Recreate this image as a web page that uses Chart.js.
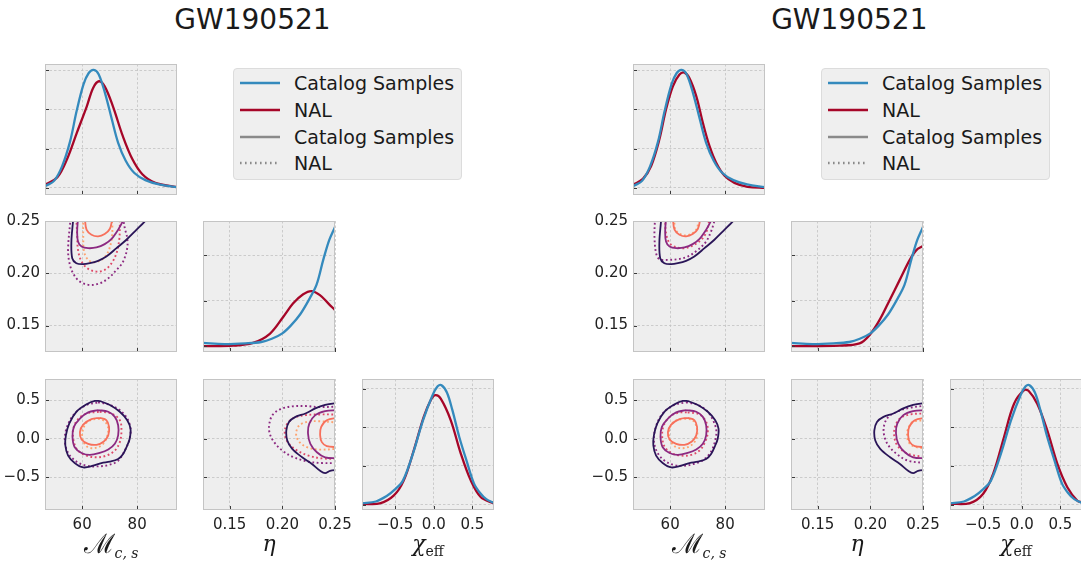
<!DOCTYPE html>
<html lang="en">
<head>
<meta charset="UTF-8">
<title>GW190521 corner plots</title>
<script src="https://cdn.jsdelivr.net/npm/chart.js"></script>
<style>
  body {
    margin: 0;
    width: 1081px;
    height: 561px;
    overflow: hidden;
    position: relative;
    background: #fff;
    font-family: 'DejaVu Sans', sans-serif;
    color: #1a1a1a;
  }
  canvas { position: absolute; }
  .title {
    position: absolute;
    top: 6px;
    font-size: 28px;
    line-height: 28px;
    transform: translateX(-50%);
    white-space: nowrap;
  }
  .legend {
    position: absolute;
    top: 68px;
    width: 229px;
    height: 112px;
    box-sizing: border-box;
    background: #efefef;
    border: 1px solid #dcdcdc;
    border-radius: 4px;
    padding-top: 1px;
  }
  .legend .row {
    height: 26.7px;
    display: flex;
    align-items: center;
    font-size: 19px;
  }
  .legend svg { margin-left: 6px; margin-right: 14px; }
  .axlabel {
    position: absolute;
    top: 533px;
    font-family: 'DejaVu Serif', serif;
    font-style: italic;
    font-size: 22px;
    line-height: 22px;
    transform: translateX(-50%);
    white-space: nowrap;
  }
  .axlabel .big { font-size: 27px; font-style: normal; }
  .axlabel sub { font-size: 14px; }
  .axlabel .rm { font-style: normal; }
</style>
</head>
<body>
<script>
  // ---- text ----
  const TITLE = 'GW190521';
  const LEGEND_LABELS = ['Catalog Samples', 'NAL', 'Catalog Samples', 'NAL'];

  // ---- axes ----
  const MC_RANGE = [46.5, 94.5];
  const ETA_RANGE = [0.1247, 0.25];
  const CHI_RANGE = [-0.93, 0.78];
  const MC_TICKS = [60, 80];
  const ETA_TICKS = [0.15, 0.20, 0.25];
  const CHI_TICKS = [-0.5, 0, 0.5];
  const MC_LABELS = ['60', '80'];
  const ETA_LABELS = ['0.15', '0.20', '0.25'];
  const CHI_LABELS = ['\u22120.5', '0.0', '0.5'];
  // density axes of the diagonal panels (unlabelled)
  const MC_DENS = [-0.18, 3.16], MC_DENS_TICKS = [0, 1, 2, 3];
  const ETA_DENS = [-0.13, 2.75], ETA_DENS_TICKS = [0, 1, 2];
  const CHI_DENS = [-0.14, 3.25], CHI_DENS_TICKS = [0, 1, 2, 3];

  // ---- 1D marginals [x, density] ----
  const MC_CAT = [[46.5,0.04],[47.0,0.06],[49.8,0.18],[52.7,0.55],[55.6,1.18],[58.0,1.96],[60.5,2.64],[62.4,2.93],[64.2,3.01],[66.0,2.9],[68.4,2.4],[70.8,1.75],[73.1,1.15],[75.8,0.7],[79.0,0.38],[83.0,0.2],[88.0,0.09],[94.5,0.02]];
  const MC_NAL_L = [[46.5,0.08],[47.0,0.10],[51.0,0.27],[54.5,0.73],[58.1,1.41],[61.7,2.08],[64.0,2.55],[66.1,2.72],[68.2,2.59],[71.2,2.08],[74.8,1.32],[78.3,0.73],[81.9,0.35],[86.6,0.13],[94.5,0.02]];
  const MC_NAL_R = [[46.5,0.08],[50.1,0.23],[53.1,0.56],[56.1,1.24],[58.5,2.0],[61.0,2.59],[63.4,2.89],[65.2,2.94],[67.0,2.8],[69.5,2.34],[71.9,1.66],[74.3,1.07],[76.7,0.65],[79.8,0.31],[83.4,0.13],[88.2,0.03],[94.5,0.0]];

  const ETA_CAT = [[0.1245,0.07],[0.145,0.045],[0.165,0.06],[0.18,0.09],[0.19,0.16],[0.2,0.28],[0.208,0.45],[0.217,0.7],[0.226,1.05],[0.2325,1.35],[0.2389,1.9],[0.2445,2.33],[0.25,2.62]];
  const ETA_NAL_L = [[0.1245,0.0],[0.1532,0.01],[0.1722,0.07],[0.1881,0.27],[0.2008,0.64],[0.2103,0.94],[0.2198,1.14],[0.2278,1.21],[0.2357,1.12],[0.2436,0.94],[0.25,0.79]];
  const ETA_NAL_R = [[0.1245,0.0],[0.1707,0.01],[0.1898,0.06],[0.1992,0.24],[0.2087,0.57],[0.2183,1.01],[0.2278,1.45],[0.2373,1.89],[0.2437,2.11],[0.25,2.2]];

  const CHI_CAT = [[-0.93,0.03],[-0.75,0.08],[-0.61,0.22],[-0.51,0.38],[-0.40,0.62],[-0.27,1.32],[-0.14,2.18],[-0.02,2.81],[0.05,3.06],[0.10,3.09],[0.17,2.9],[0.24,2.45],[0.33,1.75],[0.43,1.1],[0.52,0.55],[0.60,0.3],[0.68,0.14],[0.78,0.04]];
  const CHI_NAL_L = [[-0.93,0.02],[-0.70,0.03],[-0.52,0.23],[-0.39,0.62],[-0.26,1.40],[-0.13,2.27],[-0.04,2.70],[0.02,2.83],[0.09,2.74],[0.22,2.18],[0.35,1.32],[0.48,0.62],[0.61,0.19],[0.78,0.03]];
  const CHI_NAL_R = [[-0.93,0.02],[-0.67,0.04],[-0.50,0.28],[-0.37,0.80],[-0.23,1.75],[-0.10,2.61],[0.03,2.96],[0.09,2.94],[0.20,2.61],[0.33,1.92],[0.46,1.06],[0.59,0.45],[0.72,0.10],[0.78,0.06]];

  // ---- 2D contours, outer -> inner ----
  const MCETA_CAT = [
    [[56.7,0.2525],[56.7,0.2503],[56.1,0.2304],[56.4,0.2144],[57.9,0.2096],[60.4,0.2087],[62.8,0.2096],[65.8,0.2119],[68.8,0.216],[72.5,0.224],[76.1,0.2321],[79.8,0.2417],[82.8,0.2497],[83.4,0.2526]],
    [[58.5,0.2525],[58.2,0.2401],[58.5,0.2304],[59.8,0.2256],[62.2,0.224],[65.2,0.2247],[68.2,0.2279],[70.7,0.233],[73.1,0.2417],[74.9,0.2503],[75.1,0.2525]],
    [[61.0,0.2525],[61.6,0.2417],[63.4,0.2369],[65.8,0.2353],[68.2,0.2375],[70.1,0.2426],[71.0,0.2525]]
  ];
  const MCETA_NAL_L = [
    [[55.8,0.2525],[54.9,0.224],[55.3,0.2112],[56.7,0.2],[59.2,0.192],[62.8,0.1888],[66.4,0.1904],[69.5,0.1952],[72.5,0.2032],[74.9,0.2112],[76.4,0.224],[76.4,0.2337],[75.5,0.2433],[74.9,0.2525]],
    [[57.9,0.2525],[58.2,0.2369],[58.5,0.2224],[59.8,0.2112],[62.2,0.2042],[65.2,0.2016],[68.2,0.2032],[70.7,0.2096],[72.5,0.2192],[73.5,0.2321],[73.7,0.2433],[73.7,0.2525]],
    [[60.4,0.2525],[60.4,0.2369],[60.7,0.2208],[62.2,0.2128],[64.6,0.2106],[67.6,0.2138],[69.5,0.2208],[70.7,0.2321],[71.0,0.2433],[70.7,0.2525]]
  ];
  const MCETA_NAL_R = [
    [[54.5,0.2525],[54.3,0.2353],[54.9,0.2192],[56.1,0.2135],[59.2,0.2128],[62.8,0.2135],[66.4,0.216],[70.1,0.2224],[73.1,0.2304],[74.9,0.2401],[75.9,0.2481],[76.1,0.2525]],
    [[58.2,0.2525],[58.5,0.2385],[59.8,0.2288],[62.2,0.225],[65.2,0.224],[68.8,0.2272],[71.9,0.2337],[73.5,0.2417],[74.3,0.2525]],
    [[61.6,0.2525],[61.8,0.2423],[63.4,0.2378],[65.8,0.2362],[68.2,0.2385],[69.8,0.2433],[70.3,0.2525]]
  ];

  const MCCHI_CAT = [
    [[66.4,0.493],[70.1,0.441],[73.7,0.352],[76.4,0.242],[77.6,0.132],[77.3,0.0],[76.4,-0.088],[74.9,-0.198],[73.1,-0.264],[70.1,-0.3],[67.0,-0.317],[64.0,-0.352],[60.4,-0.374],[57.3,-0.317],[54.9,-0.22],[53.9,-0.088],[54.1,0.044],[55.3,0.198],[57.9,0.352],[61.6,0.449],[64.6,0.493],[66.4,0.493]],
    [[65.8,0.374],[69.5,0.352],[71.9,0.286],[73.1,0.176],[73.1,0.044],[71.9,-0.066],[69.5,-0.141],[66.4,-0.185],[62.8,-0.211],[59.8,-0.185],[57.3,-0.11],[56.5,0.022],[57.0,0.154],[59.2,0.264],[62.2,0.344],[65.8,0.374]],
    [[66.4,0.273],[68.8,0.242],[69.8,0.154],[69.5,0.044],[67.9,-0.035],[65.2,-0.079],[62.2,-0.066],[59.8,-0.009],[59.2,0.088],[60.4,0.185],[63.4,0.256],[66.4,0.273]]
  ];
  const MCCHI_NAL_L = [
    [[65.8,0.476],[69.5,0.449],[73.7,0.374],[76.4,0.264],[77.6,0.132],[77.1,-0.022],[75.5,-0.154],[73.1,-0.286],[69.5,-0.344],[65.2,-0.361],[61.6,-0.352],[58.0,-0.3],[54.9,-0.185],[53.7,-0.022],[54.5,0.154],[57.3,0.33],[61.6,0.441],[65.8,0.476]],
    [[66.4,0.352],[70.7,0.33],[73.7,0.242],[74.3,0.11],[73.7,-0.044],[71.9,-0.154],[68.8,-0.22],[65.2,-0.242],[61.6,-0.22],[58.5,-0.154],[57.0,-0.044],[56.7,0.11],[58.2,0.242],[61.6,0.33],[66.4,0.352]],
    [[65.8,0.264],[68.2,0.229],[69.5,0.132],[68.8,0.0],[67.0,-0.088],[64.0,-0.123],[61.6,-0.097],[60.1,0.0],[60.4,0.132],[62.2,0.229],[65.8,0.264]]
  ];
  const MCCHI_NAL_R = [
    [[65.8,0.476],[70.1,0.441],[73.5,0.361],[75.6,0.242],[76.8,0.11],[76.4,-0.022],[74.9,-0.167],[72.2,-0.273],[68.8,-0.326],[65.2,-0.352],[61.6,-0.344],[58.0,-0.286],[55.3,-0.176],[54.1,-0.022],[54.8,0.154],[57.3,0.33],[61.6,0.441],[65.8,0.476]],
    [[66.4,0.344],[70.7,0.317],[73.1,0.22],[73.7,0.088],[72.7,-0.044],[70.7,-0.154],[67.6,-0.211],[64.0,-0.22],[60.4,-0.185],[57.9,-0.097],[57.1,0.044],[57.7,0.176],[59.8,0.286],[62.8,0.339],[66.4,0.344]],
    [[65.2,0.264],[68.2,0.242],[69.8,0.132],[69.5,0.0],[67.6,-0.088],[64.6,-0.123],[61.6,-0.097],[59.8,0.0],[59.8,0.132],[61.6,0.229],[65.2,0.264]]
  ];

  const ETACHI_CAT = [
    [[0.2525,0.463],[0.2494,0.463],[0.2406,0.441],[0.2313,0.396],[0.2219,0.33],[0.2125,0.286],[0.2063,0.22],[0.2038,0.11],[0.2047,-0.022],[0.2094,-0.132],[0.2188,-0.242],[0.2281,-0.33],[0.2359,-0.419],[0.2406,-0.449],[0.2453,-0.419],[0.2525,-0.405]],
    [[0.2525,0.374],[0.2406,0.361],[0.2313,0.308],[0.2256,0.198],[0.2244,0.066],[0.2266,-0.066],[0.2328,-0.176],[0.2406,-0.242],[0.2525,-0.256]],
    [[0.2525,0.273],[0.2422,0.242],[0.2369,0.154],[0.2359,0.044],[0.2375,-0.044],[0.2422,-0.097],[0.2525,-0.11]]
  ];
  const ETACHI_NAL_L = [
    [[0.2525,0.419],[0.2344,0.414],[0.2219,0.427],[0.2094,0.423],[0.1984,0.388],[0.1906,0.308],[0.1875,0.176],[0.1881,0.066],[0.1922,-0.044],[0.2,-0.154],[0.2109,-0.242],[0.225,-0.3],[0.2375,-0.317],[0.2525,-0.317]],
    [[0.2525,0.317],[0.2344,0.317],[0.2219,0.308],[0.2109,0.273],[0.2038,0.176],[0.2025,0.044],[0.2063,-0.066],[0.2141,-0.154],[0.225,-0.22],[0.2375,-0.256],[0.2525,-0.264]],
    [[0.2525,0.211],[0.2344,0.229],[0.2234,0.22],[0.2156,0.167],[0.2131,0.053],[0.2163,-0.044],[0.2234,-0.11],[0.2344,-0.141],[0.2525,-0.132]]
  ];
  const ETACHI_NAL_R = [
    [[0.2525,0.432],[0.2375,0.405],[0.2266,0.361],[0.2172,0.286],[0.2131,0.176],[0.2131,0.044],[0.2172,-0.088],[0.225,-0.198],[0.2359,-0.286],[0.2525,-0.317]],
    [[0.2525,0.33],[0.2375,0.317],[0.2281,0.264],[0.2234,0.154],[0.2228,0.022],[0.2256,-0.088],[0.2328,-0.176],[0.2422,-0.22],[0.2525,-0.229]],
    [[0.2525,0.242],[0.2406,0.22],[0.2359,0.132],[0.235,0.022],[0.2375,-0.066],[0.2438,-0.11],[0.2525,-0.123]]
  ];

  // ---- colours ----
  const BLUE = '#348ABD', RED = '#A60628';
  const SOLID_COLORS = ['#2a1558', '#8c2981', '#f7705c'];
  const DOT_COLORS = ['#8c2981', '#de4968', '#fea26e'];

  // ---- layout ----
  const W = 132, H = 131;
  const PAD_L = 45, PAD_T = 8, PAD_R = 24, PAD_B = 26;
  const COL_X = [45, 203, 362];
  const ROW_Y = [64, 221, 379];
  const FIG_SHIFT = 588;

  const frame = {
    id: 'frame',
    beforeDraw(ch) {
      const a = ch.chartArea, c = ch.ctx;
      c.save();
      c.fillStyle = '#eeeeee';
      c.fillRect(a.left, a.top, a.right - a.left, a.bottom - a.top);
      c.restore();
    },
    afterDraw(ch) {
      const a = ch.chartArea, c = ch.ctx;
      c.save();
      c.strokeStyle = '#3a3a3a';
      c.lineWidth = 1;
      const xs = ch.scales.x, ys = ch.scales.y;
      xs.ticks.forEach(t => {
        const p = Math.round(xs.getPixelForValue(t.value)) + 0.5;
        c.beginPath(); c.moveTo(p, a.bottom); c.lineTo(p, a.bottom - 4); c.stroke();
      });
      ys.ticks.forEach(t => {
        const p = Math.round(ys.getPixelForValue(t.value)) + 0.5;
        c.beginPath(); c.moveTo(a.left, p); c.lineTo(a.left + 4, p); c.stroke();
      });
      c.strokeStyle = '#c4c4c4';
      c.strokeRect(a.left + 0.5, a.top + 0.5, a.right - a.left - 1, a.bottom - a.top - 1);
      c.restore();
    }
  };

  function axis(range, ticks, labels, showLabels, isY) {
    return {
      type: 'linear',
      min: range[0],
      max: range[1],
      afterBuildTicks: s => { s.ticks = ticks.map(v => ({ value: v })); },
      afterFit: s => {
        if (isY) s.width = PAD_L; else s.height = PAD_B;
        s.paddingLeft = 0; s.paddingRight = 0; s.paddingTop = 0; s.paddingBottom = 0;
      },
      grid: { color: '#c2c2c2', lineWidth: 0.8, drawTicks: false },
      border: { display: false, dash: [2.5, 2] },
      ticks: {
        display: showLabels,
        padding: isY ? 5 : 6,
        color: '#222',
        font: { family: 'DejaVu Sans', size: 15 },
        maxRotation: 0,
        autoSkip: false,
        callback: (v, i) => labels ? labels[i] : ''
      }
    };
  }

  function line(pts, color, width, dotted) {
    return {
      data: pts.map(p => ({ x: p[0], y: p[1] })),
      showLine: true,
      borderColor: color,
      borderWidth: width,
      borderDash: dotted ? [1.8, 2.6] : [],
      pointRadius: 0,
      tension: 0.35,
      clip: 0,
      fill: false
    };
  }

  function contours(solid, dotted) {
    const ds = [];
    solid.forEach((pts, i) => ds.push(line(pts, SOLID_COLORS[i], 1.8, false)));
    dotted.forEach((pts, i) => ds.push(line(pts, DOT_COLORS[i], 1.9, true)));
    return ds;
  }

  function panel(left, top, datasets, xAx, yAx) {
    const cv = document.createElement('canvas');
    cv.width = PAD_L + W + PAD_R;
    cv.height = PAD_T + H + PAD_B;
    cv.style.left = (left - PAD_L) + 'px';
    cv.style.top = (top - PAD_T) + 'px';
    document.body.appendChild(cv);
    new Chart(cv, {
      type: 'scatter',
      data: { datasets },
      options: {
        responsive: false,
        animation: false,
        events: [],
        layout: { padding: { left: 0, top: PAD_T, right: PAD_R, bottom: 0 } },
        plugins: { legend: { display: false }, tooltip: { enabled: false } },
        scales: { x: xAx, y: yAx }
      },
      plugins: [frame]
    });
  }

  function figure(shift, nal) {
    const cx = COL_X.map(v => v + shift);
    // diagonal
    panel(cx[0], ROW_Y[0], [line(MC_CAT, BLUE, 2.3), line(nal.mc, RED, 2.3)],
      axis(MC_RANGE, MC_TICKS, null, false, false), axis(MC_DENS, MC_DENS_TICKS, null, false, true));
    panel(cx[1], ROW_Y[1], [line(ETA_CAT, BLUE, 2.3), line(nal.eta, RED, 2.3)],
      axis(ETA_RANGE, ETA_TICKS, null, false, false), axis(ETA_DENS, ETA_DENS_TICKS, null, false, true));
    panel(cx[2], ROW_Y[2], [line(CHI_CAT, BLUE, 2.3), line(nal.chi, RED, 2.3)],
      axis(CHI_RANGE, CHI_TICKS, CHI_LABELS, true, false), axis(CHI_DENS, CHI_DENS_TICKS, null, false, true));
    // off-diagonal
    panel(cx[0], ROW_Y[1], contours(MCETA_CAT, nal.mcEta),
      axis(MC_RANGE, MC_TICKS, null, false, false), axis(ETA_RANGE, ETA_TICKS, ETA_LABELS, true, true));
    panel(cx[0], ROW_Y[2], contours(MCCHI_CAT, nal.mcChi),
      axis(MC_RANGE, MC_TICKS, MC_LABELS, true, false), axis(CHI_RANGE, CHI_TICKS, CHI_LABELS, true, true));
    panel(cx[1], ROW_Y[2], contours(ETACHI_CAT, nal.etaChi),
      axis(ETA_RANGE, ETA_TICKS, ETA_LABELS, true, false), axis(CHI_RANGE, CHI_TICKS, null, false, true));

    // title
    const t = document.createElement('div');
    t.className = 'title';
    t.textContent = TITLE;
    t.style.left = (252.5 + shift * 1.015) + 'px';
    document.body.appendChild(t);

    // legend
    const lg = document.createElement('div');
    lg.className = 'legend';
    lg.style.left = (233 + shift) + 'px';
    const handles = [
      [BLUE, ''], [RED, ''], ['#8a8a8a', ''], ['#8a8a8a', '1.6 3.4']
    ];
    LEGEND_LABELS.forEach((txt, i) => {
      const row = document.createElement('div');
      row.className = 'row';
      row.innerHTML = '<svg width="40" height="6"><line x1="0" y1="3" x2="40" y2="3" stroke="' + handles[i][0] +
        '" stroke-width="2.6"' + (handles[i][1] ? ' stroke-dasharray="' + handles[i][1] + '"' : '') + '/></svg>';
      const span = document.createElement('span');
      span.textContent = txt;
      row.appendChild(span);
      lg.appendChild(row);
    });
    document.body.appendChild(lg);

    // axis labels
    const labs = [
      ['<span class="big">\u2133</span>', '<i>c</i>, <i>s</i>'],
      ['\u03b7', ''],
      ['\u03c7', '<span class="rm">eff</span>']
    ];
    labs.forEach((l, i) => {
      const d = document.createElement('div');
      d.className = 'axlabel';
      d.innerHTML = l[0] + (l[1] ? '<sub>' + l[1] + '</sub>' : '');
      d.style.left = (cx[i] + W / 2) + 'px';
      document.body.appendChild(d);
    });
  }

  figure(0, { mc: MC_NAL_L, eta: ETA_NAL_L, chi: CHI_NAL_L, mcEta: MCETA_NAL_L, mcChi: MCCHI_NAL_L, etaChi: ETACHI_NAL_L });
  figure(FIG_SHIFT, { mc: MC_NAL_R, eta: ETA_NAL_R, chi: CHI_NAL_R, mcEta: MCETA_NAL_R, mcChi: MCCHI_NAL_R, etaChi: ETACHI_NAL_R });
</script>
</body>
</html>
